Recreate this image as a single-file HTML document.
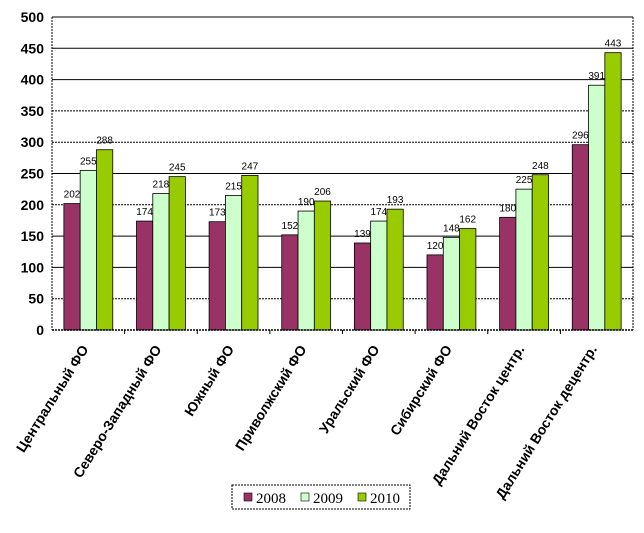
<!DOCTYPE html><html><head><meta charset="utf-8"><style>body{margin:0;background:#fff}</style></head><body>
<svg width="644" height="528" xmlns="http://www.w3.org/2000/svg" font-family="Liberation Sans, Arial, sans-serif">
<g stroke="#000" stroke-width="1">
<line x1="52" x2="633" y1="298.7" y2="298.7" stroke-dasharray="2,1"/>
<line x1="52" x2="633" y1="267.4" y2="267.4"/>
<line x1="52" x2="633" y1="236.1" y2="236.1"/>
<line x1="52" x2="633" y1="204.8" y2="204.8" stroke-dasharray="2,1"/>
<line x1="52" x2="633" y1="173.5" y2="173.5"/>
<line x1="52" x2="633" y1="142.2" y2="142.2" stroke-dasharray="2,1"/>
<line x1="52" x2="633" y1="110.9" y2="110.9" stroke-dasharray="2,1"/>
<line x1="52" x2="633" y1="79.6" y2="79.6"/>
<line x1="52" x2="633" y1="48.3" y2="48.3"/>
<line x1="52" x2="633" y1="17" y2="17"/>
</g>
<g font-size="14" font-weight="bold" text-anchor="end">
<text x="44" y="335">0</text><text x="44" y="303.7">50</text><text x="44" y="272.4">100</text><text x="44" y="241.1">150</text><text x="44" y="209.8">200</text><text x="44" y="178.5">250</text><text x="44" y="147.2">300</text><text x="44" y="115.9">350</text><text x="44" y="84.6">400</text><text x="44" y="53.3">450</text><text x="44" y="22">500</text>
</g>
<g stroke="#000" stroke-width="0.8">
<rect x="63.86" y="203.55" width="16.3" height="126.45" fill="#993366"/><rect x="80.16" y="170.37" width="16.3" height="159.63" fill="#ccffcc"/><rect x="96.46" y="149.71" width="16.3" height="180.29" fill="#99cc00"/>
<rect x="136.49" y="221.08" width="16.3" height="108.92" fill="#993366"/><rect x="152.79" y="193.53" width="16.3" height="136.47" fill="#ccffcc"/><rect x="169.09" y="176.63" width="16.3" height="153.37" fill="#99cc00"/>
<rect x="209.11" y="221.70" width="16.3" height="108.30" fill="#993366"/><rect x="225.41" y="195.41" width="16.3" height="134.59" fill="#ccffcc"/><rect x="241.71" y="175.38" width="16.3" height="154.62" fill="#99cc00"/>
<rect x="281.74" y="234.85" width="16.3" height="95.15" fill="#993366"/><rect x="298.04" y="211.06" width="16.3" height="118.94" fill="#ccffcc"/><rect x="314.34" y="201.04" width="16.3" height="128.96" fill="#99cc00"/>
<rect x="354.36" y="242.99" width="16.3" height="87.01" fill="#993366"/><rect x="370.66" y="221.08" width="16.3" height="108.92" fill="#ccffcc"/><rect x="386.96" y="209.18" width="16.3" height="120.82" fill="#99cc00"/>
<rect x="426.99" y="254.88" width="16.3" height="75.12" fill="#993366"/><rect x="443.29" y="237.35" width="16.3" height="92.65" fill="#ccffcc"/><rect x="459.59" y="228.59" width="16.3" height="101.41" fill="#99cc00"/>
<rect x="499.61" y="217.32" width="16.3" height="112.68" fill="#993366"/><rect x="515.91" y="189.15" width="16.3" height="140.85" fill="#ccffcc"/><rect x="532.21" y="174.75" width="16.3" height="155.25" fill="#99cc00"/>
<rect x="572.24" y="144.70" width="16.3" height="185.30" fill="#993366"/><rect x="588.54" y="85.23" width="16.3" height="244.77" fill="#ccffcc"/><rect x="604.84" y="52.68" width="16.3" height="277.32" fill="#99cc00"/>
</g>
<g font-size="10" text-anchor="middle">
<text x="72" y="197.5">202</text><text x="88.3" y="164.4">255</text><text x="104.6" y="143.7">288</text>
<text x="144.6" y="215.1">174</text><text x="160.9" y="187.5">218</text><text x="177.2" y="170.6">245</text>
<text x="217.3" y="215.7">173</text><text x="233.6" y="189.4">215</text><text x="249.9" y="169.4">247</text>
<text x="289.9" y="228.9">152</text><text x="306.2" y="205.1">190</text><text x="322.5" y="195">206</text>
<text x="362.5" y="237">139</text><text x="378.8" y="215.1">174</text><text x="395.1" y="203.2">193</text>
<text x="435.1" y="248.9">120</text><text x="451.4" y="231.4">148</text><text x="467.7" y="222.6">162</text>
<text x="507.8" y="211.3">180</text><text x="524.1" y="183.2">225</text><text x="540.4" y="168.8">248</text>
<text x="580.4" y="138.7">296</text><text x="596.7" y="79.2">391</text><text x="613" y="46.7">443</text>
</g>
<g stroke="#000">
<line x1="124.6" x2="124.6" y1="330" y2="334"/><line x1="197.25" x2="197.25" y1="330" y2="334"/><line x1="269.9" x2="269.9" y1="330" y2="334"/><line x1="342.5" x2="342.5" y1="330" y2="334"/><line x1="415.1" x2="415.1" y1="330" y2="334"/><line x1="487.75" x2="487.75" y1="330" y2="334"/><line x1="560.4" x2="560.4" y1="330" y2="334"/>
<line x1="52" x2="52" y1="17" y2="330" stroke-dasharray="2,1"/>
<line x1="633" x2="633" y1="17" y2="330" stroke-dasharray="2,1"/>
<line x1="52" x2="633" y1="330" y2="330" stroke-width="1.5" stroke-dasharray="2,1"/>
</g>
<g font-size="14" font-weight="bold" text-anchor="end">
<text transform="translate(89,349) rotate(-58)">Центральный ФО</text>
<text transform="translate(162,349) rotate(-58)">Северо-Западный ФО</text>
<text transform="translate(234.5,349) rotate(-58)">Южный ФО</text>
<text transform="translate(307,349) rotate(-58)">Приволжский ФО</text>
<text transform="translate(380,349) rotate(-58)">Уральский ФО</text>
<text transform="translate(452.5,349) rotate(-58)">Сибирский ФО</text>
<text transform="translate(525,349) rotate(-58)">Дальний Восток центр.</text>
<text transform="translate(597.5,349) rotate(-58)">Дальний Восток децентр.</text>
</g>
<rect x="232" y="485" width="178" height="24" fill="#fff" stroke="#000" stroke-dasharray="2,1"/>
<g font-family="Liberation Serif, serif" font-size="15">
<rect x="244" y="493" width="8" height="8" fill="#993366" stroke="#000" stroke-width="0.6"/><text x="256" y="503">2008</text>
<rect x="301" y="493" width="8" height="8" fill="#ccffcc" stroke="#000" stroke-width="0.6"/><text x="313" y="503">2009</text>
<rect x="358" y="493" width="8" height="8" fill="#99cc00" stroke="#000" stroke-width="0.6"/><text x="370" y="503">2010</text>
</g>
</svg></body></html>
